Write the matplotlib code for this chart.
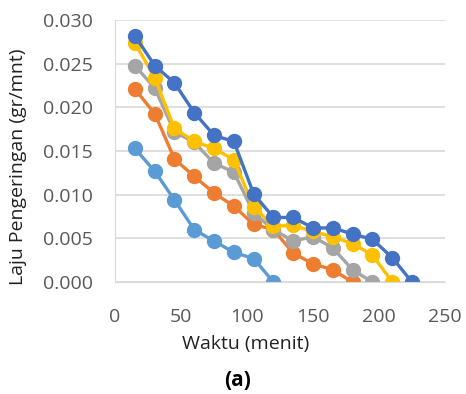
import matplotlib.pyplot as plt

# waktu (menit) dan laju pengeringan (gr/mnt) per seri
waktu = [15, 30, 45, 60, 75, 90, 105, 120, 135, 150, 165, 180, 195, 210, 225]

laju_biru_muda = [0.0153, 0.0127, 0.0094, 0.0060, 0.0047, 0.0034, 0.0027, 0.0]
laju_oranye = [0.0221, 0.0193, 0.0141, 0.0121, 0.0102, 0.0087, 0.0066, 0.0060,
               0.0033, 0.0021, 0.0014, 0.0]
laju_abu = [0.0248, 0.0222, 0.0172, 0.0160, 0.0136, 0.0126, 0.0079, 0.0060,
            0.0047, 0.0052, 0.0039, 0.0014, 0.0]
laju_kuning = [0.0274, 0.0234, 0.0176, 0.0161, 0.0153, 0.0140, 0.0086, 0.0064,
               0.0065, 0.0058, 0.0052, 0.0044, 0.0031, 0.0]
laju_biru = [0.0282, 0.0248, 0.0228, 0.0194, 0.0168, 0.0161, 0.0101, 0.0074,
             0.0074, 0.0062, 0.0062, 0.0055, 0.0049, 0.0028, 0.0]

seri = [
    (laju_biru_muda, '#5B9BD5'),
    (laju_oranye, '#ED7D31'),
    (laju_abu, '#A5A5A5'),
    (laju_kuning, '#FFC000'),
    (laju_biru, '#4472C4'),
]

plt.rcParams['font.family'] = ['Open Sans', 'DejaVu Sans']

fig = plt.figure(figsize=(4.66, 3.94), dpi=100)
ax = fig.add_axes([0.247, 0.284, 0.708, 0.665])

for data, warna in seri:
    ax.plot(waktu[:len(data)], data, color=warna, marker='o', markersize=10,
            linewidth=2.4)

ax.set_xlim(0, 250)
ax.set_ylim(0, 0.030)
ax.set_xticks([0, 50, 100, 150, 200, 250])
ax.set_yticks([0.000, 0.005, 0.010, 0.015, 0.020, 0.025, 0.030])
ax.set_yticklabels([f'{v:.3f}' for v in ax.get_yticks()])
ax.grid(axis='y', color='#d9d9d9', linewidth=1.2)
ax.set_axisbelow(True)
for s in ['top', 'right']:
    ax.spines[s].set_visible(False)
ax.spines['left'].set_color('#d9d9d9')
ax.spines['bottom'].set_color('#d9d9d9')
ax.tick_params(length=0, labelsize=14, labelcolor='#595959')
ax.tick_params(axis='x', pad=19)
ax.tick_params(axis='y', pad=16)

# judul sumbu diletakkan seperti pada grafik Excel aslinya
fig.text(246 / 466, 1 - 344 / 394, 'Waktu (menit)', fontsize=14,
         color='#222222', ha='center', va='center')
fig.text(18 / 466, 1 - 167 / 394, 'Laju Pengeringan (gr/mnt)', fontsize=14,
         color='#222222', ha='center', va='center', rotation=90)
fig.text(238 / 466, 1 - 381 / 394, '(a)', fontsize=15, fontweight='bold',
         ha='center', va='center')

fig.savefig('out.png', dpi=100)
